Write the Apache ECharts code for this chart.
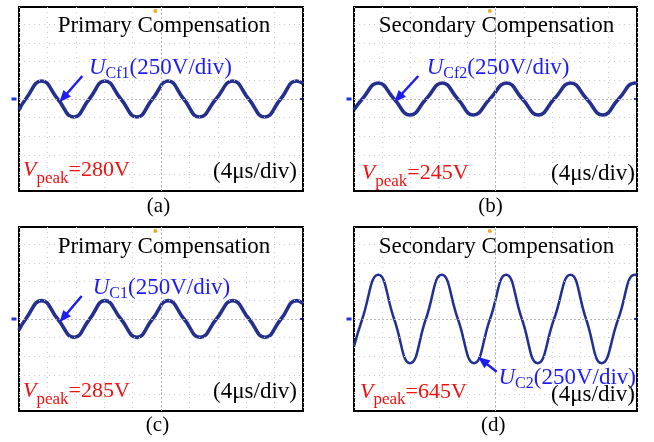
<!DOCTYPE html>
<html><head><meta charset="utf-8">
<script src="https://cdn.jsdelivr.net/npm/echarts@6/dist/echarts.min.js"></script>
<style>html,body{margin:0;padding:0;background:#fff}#c{width:654px;height:442px}</style>
</head><body><div id="c"></div>
<script>
// time in microseconds (4 us/div, 10 div), voltage in V (250 V/div)
const timeA = [0,0.95,3.2,5.45,7.7,9.9,12.1,14.35,16.6,18.8,21.0,23.2,25.4,27.75,30.1,32.35,34.6,36.85,39.1,40];
const voltA = [-145,0,240,0,-240,0,240,0,-240,0,240,0,-240,0,240,0,-240,0,240,205];
const timeB = [0,1.17,3.43,5.67,7.92,10.2,12.48,14.67,16.86,19.2,21.58,23.8,26.05,28.3,30.63,32.9,35.15,37.4,39.72,40];
const voltB = [-145,0,213,0,-213,0,213,0,-213,0,213,0,-213,0,213,0,-213,0,213,210];
const timeC = [0,0.95,3.2,5.45,7.75,9.95,12.1,14.35,16.6,18.8,21.0,23.25,25.5,27.8,30.1,32.4,34.65,36.9,39.1,40];
const voltC = [-148,0,245,0,-245,0,245,0,-245,0,245,0,-245,0,245,0,-245,0,245,210];
const timeD = [0,1.17,3.43,5.67,7.92,10.16,12.4,14.68,16.96,19.23,21.5,23.73,25.96,28.28,30.6,32.8,35.0,37.35,39.7,40];
const voltD = [-365,0,590,0,-590,0,590,0,-590,0,590,0,-590,0,590,0,-590,0,590,585];

const titles = ['Primary Compensation','Secondary Compensation','Primary Compensation','Secondary Compensation'];
const chanSubs = ['Cf1','Cf2','C1','C2'];
const peaks = ['280V','245V','285V','645V'];
const captions = ['(a)','(b)','(c)','(d)'];
const timeBase = '(4μs/div)';
const voltDiv = '(250V/div)';
const xTicks = {min:0, max:40, interval:4};
const yGridVals = [-1000,-750,-500,-250,250,500,750,1000];
const yHalf = 1227;

const series = [[timeA,voltA],[timeB,voltB],[timeC,voltC],[timeD,voltD]];
const arrows = [
  [[8.92,307],[6.24,17]],
  [[9.09,307],[6.26,17]],
  [[8.83,307],[6.24,17]],
  [[20.17,-703],[18.19,-556]]
];

const boxes = [
  {left:19, top:7, width:284, height:184},
  {left:354, top:7, width:283, height:184},
  {left:19, top:227, width:284, height:184},
  {left:354, top:227, width:283, height:184}
];
const FONT = 'Liberation Serif';
const BLUE = '#1d1df0', RED = '#f01010', WAVE = '#24308f';

const grid = [], xAxis = [], yAxis = [], sers = [], graphic = [];
boxes.forEach((b, i) => {
  grid.push(Object.assign({show:true, borderColor:'#000', borderWidth:2, backgroundColor:'#fff'}, b));
  xAxis.push({type:'value', gridIndex:i, min:xTicks.min, max:xTicks.max, interval:xTicks.interval,
    axisLine:{show:false}, axisTick:{show:false}, axisLabel:{show:false},
    splitLine:{show:true, lineStyle:{color:'#cfcfcf', width:1, type:[1,4]}}});
  yAxis.push({type:'value', gridIndex:i, min:-yHalf, max:yHalf,
    axisLine:{show:false}, axisTick:{show:false}, axisLabel:{show:false}, splitLine:{show:false}});
  // grid rows + centre cross
  sers.push({type:'line', xAxisIndex:i, yAxisIndex:i, data:[], z:1, silent:true,
    markLine:{silent:true, symbol:['none','none'], label:{show:false}, animation:false,
      data: yGridVals.map(v => ({yAxis:v, lineStyle:{color:'#cfcfcf', width:1, type:[1,4]}}))
        .concat([{yAxis:0, lineStyle:{color:'#b5b5b5', width:1, type:[2,2]}},
                 {xAxis:20, lineStyle:{color:'#b5b5b5', width:1, type:[2,2]}}])}});
  const [t, v] = series[i];
  sers.push({type:'line', xAxisIndex:i, yAxisIndex:i, z:3, smooth:true, showSymbol:false, animation:false,
    data: t.map((x, k) => [x, v[k]]),
    lineStyle:{color:WAVE, width: i===3 ? 2.5 : 3.6},
    markPoint:{silent:true, animation:false, label:{show:false}, data:[
      {coord:[0,0], symbol:'rect', symbolSize:[5,3], symbolOffset:[-5,0], itemStyle:{color:'#2233dd'}},
      {coord:[40,0], symbol:'rect', symbolSize:[2,2], symbolOffset:[-2,0], itemStyle:{color:'#2233dd'}},
      {coord:[19.2,yHalf], symbol:'circle', symbolSize:4, symbolOffset:[0,4], itemStyle:{color:'#f5a623'}}
    ]},
    markLine:{silent:true, animation:false, symbol:['none','triangle'], symbolSize:[10,12], label:{show:false},
      lineStyle:{color:BLUE, width:2.5, type:'solid'},
      data:[[{coord:arrows[i][0]},{coord:arrows[i][1]}]]}
  });
});

// texts
const titlePos = [[164,26.2],[496.5,26.2],[164,246.5],[496.5,246.5]];
const labelPos = [[89,54.2,'left'],[426.7,54.2,'left'],[92.7,274.2,'left'],[636,364,'right']];
const peakPos = [[23,154.6],[361.7,157.6],[23,375.6],[360,375.9]];
const tbPos = [[297,172.2],[635,173.9],[297,392.2],[635,394.9]];
const capPos = [[158.5,206.5],[490.5,206.5],[157.5,425],[493.3,425]];
for (let i = 0; i < 4; i++) {
  graphic.push({type:'text', x:titlePos[i][0], y:titlePos[i][1], z:10,
    style:{text:titles[i], font:'23px "'+FONT+'"', fill:'#000', align:'center', verticalAlign:'middle'}});
  graphic.push({type:'text', x:labelPos[i][0], y:labelPos[i][1], z:10,
    style:{text:'{u|U}{s|'+chanSubs[i]+'}{n|'+voltDiv+'}', align:labelPos[i][2], verticalAlign:'top',
      rich:{
        u:{fontFamily:FONT, fontSize:23, fontStyle:'italic', fill:BLUE, lineHeight:28, verticalAlign:'middle'},
        s:{fontFamily:FONT, fontSize:16, fill:BLUE, lineHeight:16, verticalAlign:'bottom'},
        n:{fontFamily:FONT, fontSize:23, fill:BLUE, lineHeight:28, verticalAlign:'middle'}
      }}});
  graphic.push({type:'text', x:peakPos[i][0], y:peakPos[i][1], z:10,
    style:{text:'{v|V}{s|peak}{n|='+peaks[i]+'}', align:'left', verticalAlign:'top',
      rich:{
        v:{fontFamily:FONT, fontSize:22, fontStyle:'italic', fill:RED, lineHeight:32, verticalAlign:'middle'},
        s:{fontFamily:FONT, fontSize:17, fill:RED, lineHeight:17, verticalAlign:'bottom'},
        n:{fontFamily:FONT, fontSize:22, fill:RED, lineHeight:32, verticalAlign:'middle'}
      }}});
  graphic.push({type:'text', x:tbPos[i][0], y:tbPos[i][1], z:10,
    style:{text:timeBase, font:'23px "'+FONT+'"', fill:'#000', align:'right', verticalAlign:'middle'}});
  graphic.push({type:'text', x:capPos[i][0], y:capPos[i][1], z:10,
    style:{text:captions[i], font:'21px "'+FONT+'"', fill:'#000', align:'center', verticalAlign:'middle'}});
}

const chart = echarts.init(document.getElementById('c'), null, {renderer:'canvas'});
chart.setOption({animation:false, backgroundColor:'#fff', grid, xAxis, yAxis, series:sers, graphic});
</script></body></html>
